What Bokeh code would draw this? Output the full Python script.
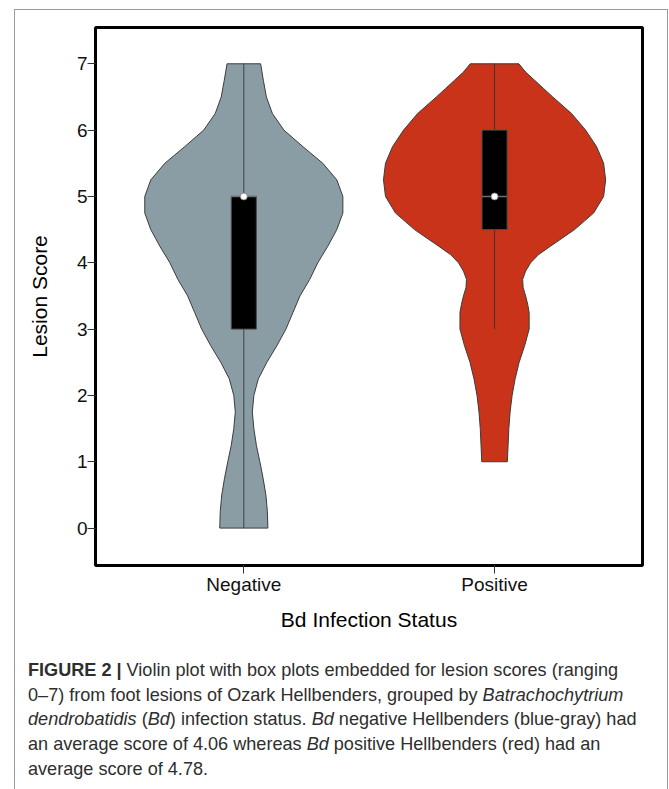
import numpy as np
from bokeh.plotting import figure
from bokeh.layouts import column
from bokeh.models import Range1d, FixedTicker, Div
from bokeh.embed import file_html
from bokeh.resources import INLINE

# ---------------- data ----------------
groups = ["Negative", "Positive"]
group_pos = [1, 2]
y_ticks = [0, 1, 2, 3, 4, 5, 6, 7]

# violin outlines: half-width (x data units) at each lesion score
neg_y = [0.0, 0.25, 0.5, 0.75, 1.0, 1.25, 1.5, 1.75, 2.0, 2.25, 2.5, 2.75, 3.0, 3.25,
         3.5, 3.75, 4.0, 4.25, 4.5, 4.75, 5.0, 5.25, 5.5, 5.75, 6.0, 6.25, 6.5, 6.75, 7.0]
neg_half = [0.096, 0.094, 0.088, 0.077, 0.064, 0.050, 0.040, 0.034, 0.040, 0.058, 0.092,
            0.132, 0.168, 0.196, 0.224, 0.263, 0.295, 0.335, 0.371, 0.395, 0.395, 0.371,
            0.315, 0.236, 0.160, 0.114, 0.090, 0.078, 0.067]
pos_y = [1.0, 1.25, 1.5, 1.75, 2.0, 2.25, 2.5, 2.75, 3.0, 3.25, 3.375, 3.5, 3.625, 3.75,
         3.875, 4.0, 4.125, 4.25, 4.375, 4.5, 4.75, 5.0, 5.25, 5.5, 5.75, 6.0, 6.25, 6.5,
         6.625, 6.75, 6.875, 7.0]
pos_half = [0.051, 0.054, 0.057, 0.062, 0.070, 0.082, 0.098, 0.120, 0.138, 0.138, 0.132,
            0.124, 0.114, 0.112, 0.124, 0.144, 0.176, 0.223, 0.271, 0.319, 0.395, 0.435,
            0.443, 0.435, 0.407, 0.363, 0.307, 0.232, 0.196, 0.160, 0.124, 0.097]

box_q1 = [3.0, 4.5]
box_q3 = [5.0, 6.0]
box_median = [5.0, 5.0]
whisker_low = [0.0, 3.0]
whisker_high = [7.0, 7.0]

fill_colors = ["#8a9ca4", "#c8331a"]

caption = [
    [("FIGURE 2 |", "bold"), (" Violin plot with box plots embedded for lesion scores (ranging", "normal")],
    [("0–7) from foot lesions of Ozark Hellbenders, grouped by ", "normal"), ("Batrachochytrium", "italic")],
    [("dendrobatidis", "italic"), (" (", "normal"), ("Bd", "italic"), (") infection status. ", "normal"),
     ("Bd", "italic"), (" negative Hellbenders (blue-gray) had", "normal")],
    [("an average score of 4.06 whereas ", "normal"), ("Bd", "italic"),
     (" positive Hellbenders (red) had an", "normal")],
    [("average score of 4.78.", "normal")],
]

# ---------------- sizes ----------------
W, H_TOTAL = 669, 789
H_MAIN = 640
H_CAP = H_TOTAL - H_MAIN
FONT = "Liberation Sans"
FRAME_GRAY = "#9a9a9a"

# ---------------- main figure ----------------
p = figure(width=W, height=H_MAIN, output_backend="svg", toolbar_location=None, title=None,
           x_range=Range1d(0.4085, 2.590), y_range=Range1d(-0.564, 7.547),
           min_border_left=95, min_border_right=27, min_border_top=27,
           min_border_bottom=75)
p.background_fill_color = "white"
p.border_fill_alpha = 0
p.xgrid.visible = False
p.ygrid.visible = False
p.outline_line_color = "black"
p.outline_line_width = 3
p.outline_line_alpha = 1.0

for ax in (p.xaxis[0], p.yaxis[0]):
    ax.axis_line_color = None
    ax.minor_tick_line_color = None
    ax.major_tick_line_color = "#333333"
    ax.major_tick_line_width = 1
    ax.major_tick_in = 0
    ax.major_tick_out = 8
    ax.major_label_text_font = FONT
    ax.major_label_text_font_size = "19px"
    ax.major_label_text_color = "#111111"
    ax.major_label_standoff = 0
    ax.axis_label_text_font = FONT
    ax.axis_label_text_font_size = "21px"
    ax.axis_label_text_font_style = "normal"
    ax.axis_label_text_color = "#000000"

p.xaxis.ticker = FixedTicker(ticks=group_pos)
p.xaxis.major_label_overrides = {g: name for g, name in zip(group_pos, groups)}
p.xaxis.axis_label = "Bd Infection Status"
p.xaxis.axis_label_standoff = 10
p.yaxis.ticker = FixedTicker(ticks=y_ticks)
p.yaxis.axis_label = "Lesion Score"
p.yaxis.axis_label_standoff = 23

violins = [(neg_y, neg_half), (pos_y, pos_half)]
for i, (yy, hw) in enumerate(violins):
    c = group_pos[i]
    yy = np.array(yy)
    hw = np.array(hw)
    xs = np.concatenate([c + hw, (c - hw)[::-1]])
    ys = np.concatenate([yy, yy[::-1]])
    p.patch(xs, ys, fill_color=fill_colors[i], line_color="#3c3c3c", line_width=1)

# whiskers
p.segment(x0=group_pos, y0=whisker_low, x1=group_pos, y1=whisker_high,
          line_color="#333333", line_width=1, line_alpha=0.85)
# boxes
bw = 0.05
p.quad(left=[g - bw for g in group_pos], right=[g + bw for g in group_pos],
       bottom=box_q1, top=box_q3, fill_color="black", line_color="#4d4d4d", line_width=1)
# median lines
p.segment(x0=[g - bw for g in group_pos], y0=box_median,
          x1=[g + bw for g in group_pos], y1=box_median,
          line_color="#6e6e6e", line_width=1.5)
# median points
p.scatter(x=group_pos, y=box_median, size=7, fill_color="white", line_color="#777777",
          line_width=0.8)

# ---------------- caption (HTML text block) ----------------
TAGS = {"bold": ("<b>", "</b>"), "italic": ("<i>", "</i>"), "normal": ("", "")}
lines_html = []
for segs in caption:
    parts = []
    for txt, style in segs:
        a, b = TAGS[style]
        parts.append(a + txt + b)
    lines_html.append("".join(parts))

# left edge of the outer journal-figure frame (fixed to the page)
left_edge = (f'<div style="position: fixed; left: 14px; top: 9px; width: 1px; height: 800px; '
             f'background-color: {FRAME_GRAY}; z-index: 10;"></div>')

cap_html = (
    left_edge +
    '<div style="font-family: \'Liberation Sans\', Arial, sans-serif; font-size: 18.1px; '
    'line-height: 24.7px; color: #2e2e2e; white-space: pre; margin: 0; '
    'padding: 18px 0 0 28px; height: 131px; box-sizing: content-box;">'
    + "<br>".join(lines_html) + "</div>"
)
cap = Div(text=cap_html, width=W, height=H_CAP, margin=0)

# top / right (and left) edges of the outer frame, drawn as inset shadows of the page block
frame_css = ", ".join([
    "inset 0 9px 0 0 white", "inset 14px 0 0 0 white", "inset -1px 0 0 0 white",
    f"inset 0 10px 0 0 {FRAME_GRAY}", f"inset 15px 0 0 0 {FRAME_GRAY}",
    f"inset -2px 0 0 0 {FRAME_GRAY}",
])
layout = column(p, cap, spacing=0,
                styles={"background-color": "white", "box-shadow": frame_css})

open("out.html", "w").write(file_html(layout, INLINE))
